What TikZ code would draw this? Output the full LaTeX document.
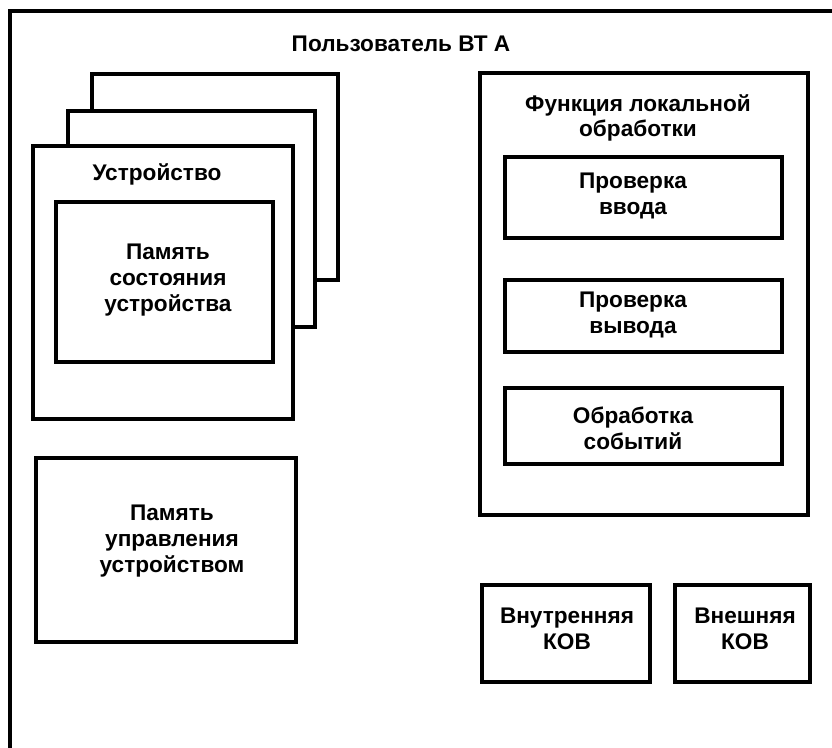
\documentclass[tikz,border=0pt]{standalone}
\usepackage{fontspec}
\setmainfont{Liberation Sans}
\tikzset{
  box/.style={line width=3.2pt, fill=white},
  lbl/.style={align=center, font=\bfseries\fontsize{19.3}{22}\selectfont}
}
\begin{document}
\begin{tikzpicture}[x=0.3mm,y=-0.3mm]
\useasboundingbox (0,0) rectangle (832,747);
\draw[line width=3.2pt] (10,760) -- (10,11) -- (845,11);
\node[lbl] (user) at (401,44) {Пользователь ВТ А};
% stack of devices
\draw[box] (92,74) rectangle (338,280);
\draw[box] (68,111) rectangle (315,327);
\draw[box] (33,146) rectangle (293,419);
\node[lbl] (dev) at (157,174) {Устройство};
\draw[box] (56,202) rectangle (273,362);
\node[lbl] (devstate) at (168,280) {Память\\состояния\\устройства};
\draw[box] (36,458) rectangle (296,642);
\node[lbl] (devctl) at (172,541) {Память\\управления\\устройством};
% local processing
\draw[box] (480,73) rectangle (808,515);
\node[lbl] (local) at (638,118) {Функция локальной\\обработки};
\draw[box] (505,157) rectangle (782,238);
\node[lbl] (inchk) at (633,196) {Проверка\\ввода};
\draw[box] (505,280) rectangle (782,352);
\node[lbl] (outchk) at (633,315) {Проверка\\вывода};
\draw[box] (505,388) rectangle (782,464);
\node[lbl] (events) at (633,428) {Обработка\\событий};
% queues
\draw[box] (482,585) rectangle (650,682);
\node[lbl] (inq) at (567,629) {Внутренняя\\КОВ};
\draw[box] (675,585) rectangle (810,682);
\node[lbl] (extq) at (745,629) {Внешняя\\КОВ};
\end{tikzpicture}
\end{document}
